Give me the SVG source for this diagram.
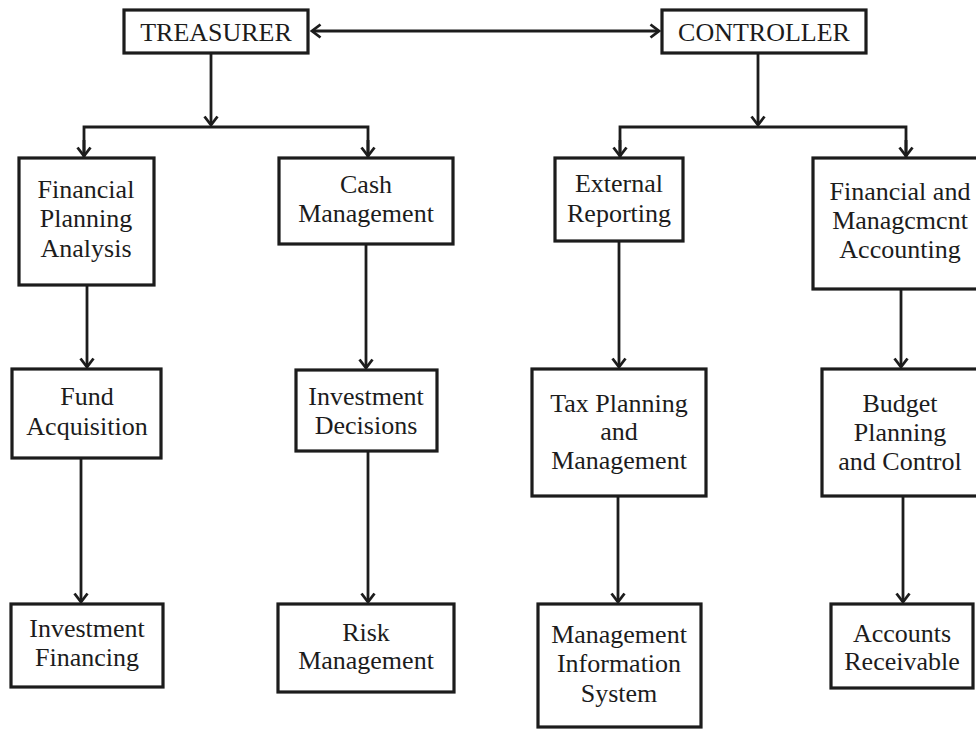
<svg xmlns="http://www.w3.org/2000/svg" width="976" height="729" viewBox="0 0 976 729">
  <style>
    .box { fill: #ffffff; stroke: #1c1c1c; stroke-width: 3.2; }
    .lbl { font-family: "Liberation Serif", "Times New Roman", serif; font-size: 26px; fill: #1c1c1c; text-anchor: middle; }
    .wire { fill: none; stroke: #1c1c1c; stroke-width: 2.8; }
  </style>
  <defs>
    <marker id="chev" viewBox="-10 -8 12 16" markerWidth="12" markerHeight="16" refX="0" refY="0" orient="auto-start-reverse" markerUnits="userSpaceOnUse">
      <path d="M -8.5,-6.5 L 0,0 L -8.5,6.5" fill="none" stroke="#1c1c1c" stroke-width="2.8" stroke-linejoin="miter"/>
    </marker>
  </defs>
  <rect width="976" height="729" fill="#ffffff"/>

  <!-- connectors -->
  <g id="connectors">
    <line class="wire" x1="312" y1="31" x2="659" y2="31" marker-start="url(#chev)" marker-end="url(#chev)"/>
    <line class="wire" x1="211" y1="54" x2="211" y2="125" marker-end="url(#chev)"/>
    <polyline class="wire" points="84,157 84,127 368,127 368,157"/>
    <line class="wire" x1="84" y1="140" x2="84" y2="156" marker-end="url(#chev)"/>
    <line class="wire" x1="368" y1="140" x2="368" y2="156" marker-end="url(#chev)"/>
    <line class="wire" x1="758" y1="54" x2="758" y2="125" marker-end="url(#chev)"/>
    <polyline class="wire" points="620,157 620,127 906,127 906,157"/>
    <line class="wire" x1="620" y1="140" x2="620" y2="156" marker-end="url(#chev)"/>
    <line class="wire" x1="906" y1="140" x2="906" y2="156" marker-end="url(#chev)"/>
    <line class="wire" x1="87" y1="286" x2="87" y2="367" marker-end="url(#chev)"/>
    <line class="wire" x1="366" y1="245" x2="366" y2="368" marker-end="url(#chev)"/>
    <line class="wire" x1="619" y1="242" x2="619" y2="367" marker-end="url(#chev)"/>
    <line class="wire" x1="901" y1="290" x2="901" y2="367" marker-end="url(#chev)"/>
    <line class="wire" x1="81" y1="459" x2="81" y2="602" marker-end="url(#chev)"/>
    <line class="wire" x1="368" y1="452" x2="368" y2="602" marker-end="url(#chev)"/>
    <line class="wire" x1="618" y1="497" x2="618" y2="602" marker-end="url(#chev)"/>
    <line class="wire" x1="903" y1="497" x2="903" y2="602" marker-end="url(#chev)"/>
  </g>

  <!-- top level -->
  <g id="treasurer">
    <rect class="box" x="124" y="10" width="184" height="43"/>
    <text class="lbl" x="216" y="41">TREASURER</text>
  </g>
  <g id="controller">
    <rect class="box" x="662" y="10" width="204" height="43"/>
    <text class="lbl" x="764" y="41">CONTROLLER</text>
  </g>

  <!-- treasurer branch -->
  <g id="financial-planning">
    <rect class="box" x="19" y="158" width="135" height="127"/>
    <text class="lbl" x="86" y="198">Financial</text>
    <text class="lbl" x="86" y="227">Planning</text>
    <text class="lbl" x="86" y="257">Analysis</text>
  </g>
  <g id="cash-management">
    <rect class="box" x="279" y="158" width="174" height="86"/>
    <text class="lbl" x="366" y="193">Cash</text>
    <text class="lbl" x="366" y="222">Management</text>
  </g>
  <g id="fund-acquisition">
    <rect class="box" x="12" y="369" width="149" height="89"/>
    <text class="lbl" x="87" y="405">Fund</text>
    <text class="lbl" x="87" y="435">Acquisition</text>
  </g>
  <g id="investment-decisions">
    <rect class="box" x="296" y="370" width="141" height="81"/>
    <text class="lbl" x="366" y="405">Investment</text>
    <text class="lbl" x="366" y="434">Decisions</text>
  </g>
  <g id="investment-financing">
    <rect class="box" x="11" y="604" width="152" height="83"/>
    <text class="lbl" x="87" y="637">Investment</text>
    <text class="lbl" x="87" y="666">Financing</text>
  </g>
  <g id="risk-management">
    <rect class="box" x="278" y="604" width="176" height="88"/>
    <text class="lbl" x="366" y="641">Risk</text>
    <text class="lbl" x="366" y="669">Management</text>
  </g>

  <!-- controller branch -->
  <g id="external-reporting">
    <rect class="box" x="555" y="158" width="128" height="83"/>
    <text class="lbl" x="619" y="192">External</text>
    <text class="lbl" x="619" y="222">Reporting</text>
  </g>
  <g id="financial-management-accounting">
    <rect class="box" x="813" y="158" width="180" height="131"/>
    <text class="lbl" x="900" y="200">Financial and</text>
    <text class="lbl" x="900" y="229">Managcmcnt</text>
    <text class="lbl" x="900" y="258">Accounting</text>
  </g>
  <g id="tax-planning">
    <rect class="box" x="532" y="369" width="174" height="127"/>
    <text class="lbl" x="619" y="412">Tax Planning</text>
    <text class="lbl" x="619" y="440">and</text>
    <text class="lbl" x="619" y="469">Management</text>
  </g>
  <g id="budget-planning">
    <rect class="box" x="822" y="369" width="171" height="127"/>
    <text class="lbl" x="900" y="412">Budget</text>
    <text class="lbl" x="900" y="441">Planning</text>
    <text class="lbl" x="900" y="470">and Control</text>
  </g>
  <g id="management-information-system">
    <rect class="box" x="538" y="604" width="163" height="123"/>
    <text class="lbl" x="619" y="643">Management</text>
    <text class="lbl" x="619" y="672">Information</text>
    <text class="lbl" x="619" y="702">System</text>
  </g>
  <g id="accounts-receivable">
    <rect class="box" x="831" y="604" width="142" height="84"/>
    <text class="lbl" x="902" y="642">Accounts</text>
    <text class="lbl" x="902" y="670">Receivable</text>
  </g>
</svg>
